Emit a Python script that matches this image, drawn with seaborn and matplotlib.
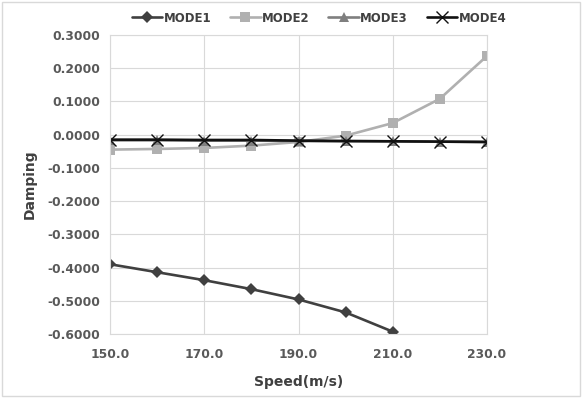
import pandas as pd
import matplotlib.pyplot as plt
import seaborn as sns
from matplotlib.patches import Rectangle
from matplotlib.lines import Line2D

speed = [150, 160, 170, 180, 190, 200, 210, 220, 230]
mode1 = [-0.390, -0.414, -0.438, -0.465, -0.496, -0.535, -0.593, None, None]
mode2 = [-0.045, -0.043, -0.040, -0.033, -0.022, -0.003, 0.035, 0.108, 0.237]
mode3 = [-0.017, -0.017, -0.018, -0.018, -0.019, -0.020, -0.020, -0.021, -0.022]
mode4 = [-0.015, -0.015, -0.016, -0.016, -0.018, -0.019, -0.020, -0.021, -0.022]

modes = ['MODE1', 'MODE2', 'MODE3', 'MODE4']
colors = ['#404040', '#b0b0b0', '#7f7f7f', '#111111']
markers = ['D', 's', '^', 'x']


def build_df():
    rows = []
    for name, vals in zip(modes, [mode1, mode2, mode3, mode4]):
        for s, v in zip(speed, vals):
            if v is not None:
                rows.append({'Speed': s, 'Damping': v, 'Mode': name})
    return pd.DataFrame(rows)


def marker_kw(mk, c):
    if mk == 'x':
        return dict(markersize=8, markeredgewidth=1.0, markeredgecolor=c)
    return dict(markersize=6.5, markeredgewidth=0, markeredgecolor=c)


def main():
    df = build_df()
    sns.set_style('white')
    plt.rcParams['font.family'] = ['DejaVu Sans']

    fig = plt.figure(figsize=(5.82, 3.98), dpi=100)
    ax = fig.add_axes([110 / 582, 1 - 334 / 398, 377 / 582, 299 / 398])

    for name, c, mk in zip(modes, colors, markers):
        sub = df[df['Mode'] == name]
        sns.lineplot(data=sub, x='Speed', y='Damping', color=c, marker=mk,
                     linewidth=1.9, ax=ax, legend=False, **marker_kw(mk, c))

    ax.set_xlim(150, 230)
    ax.set_ylim(-0.6, 0.3)
    ax.set_xticks([150, 170, 190, 210, 230])
    ax.set_xticklabels([f'{v:.1f}' for v in [150, 170, 190, 210, 230]])
    yt = [0.3, 0.2, 0.1, 0.0, -0.1, -0.2, -0.3, -0.4, -0.5, -0.6]
    ax.set_yticks(yt)
    ax.set_yticklabels([f'{v:.4f}' for v in yt])
    ax.grid(True, color='#d9d9d9', linewidth=0.8)
    ax.set_axisbelow(True)
    for sp in ax.spines.values():
        sp.set_color('#d9d9d9')
        sp.set_linewidth(0.8)
    ax.tick_params(axis='both', length=0, labelsize=8.8, labelcolor='#595959')
    ax.tick_params(axis='y', pad=7)
    ax.tick_params(axis='x', pad=10)
    for lab in ax.get_xticklabels() + ax.get_yticklabels():
        lab.set_fontweight('bold')

    ax.set_xlabel('Speed(m/s)', fontsize=10, fontweight='bold', color='#404040', labelpad=10)
    ax.set_ylabel('Damping', fontsize=10, fontweight='bold', color='#404040', labelpad=8)

    handles = [Line2D([], [], color=c, marker=mk, linewidth=1.9, **marker_kw(mk, c))
               for c, mk in zip(colors, markers)]
    leg = fig.legend(handles, modes, loc='center', bbox_to_anchor=(0.548, 1 - 18 / 398),
                     ncol=4, frameon=False, handlelength=2.6,
                     columnspacing=1.6, handletextpad=0.1,
                     prop={'weight': 'bold', 'size': 8.5})
    for t in leg.get_texts():
        t.set_color('#404040')

    fig.patches.append(Rectangle((2 / 582, 2 / 398), 1 - 4 / 582, 1 - 4 / 398,
                                 transform=fig.transFigure, fill=False,
                                 edgecolor='#d9d9d9', linewidth=1))
    fig.savefig('out.png', dpi=100)


if __name__ == '__main__':
    main()
